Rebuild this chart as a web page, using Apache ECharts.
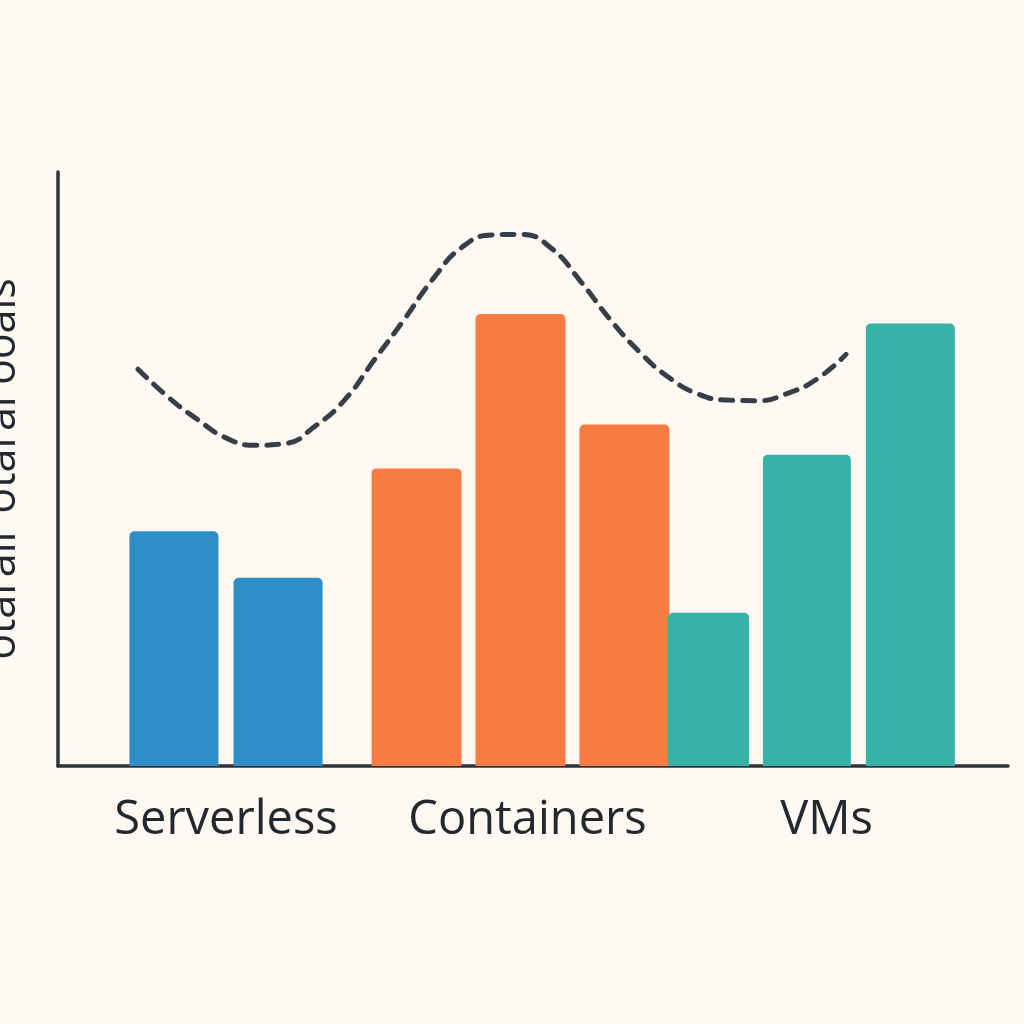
<!DOCTYPE html>
<html>
<head>
<meta charset="utf-8">
<script src="https://cdn.jsdelivr.net/npm/echarts@6/dist/echarts.min.js"></script>
<style>
  html, body { margin: 0; padding: 0; background: #fdf9f2; }
  #chart { width: 1024px; height: 1024px; }
</style>
</head>
<body>
<div id="chart"></div>
<script>
// groups on the x axis
const groups = ['Serverless', 'Containers', 'VMs']
const yTitle = 'otaraır otaraı ooaıs'

// bar heights per group (0-100 scale)
const serverlessValues = [39.5, 31.7]
const containerValues = [50.1, 76.1, 57.5]
const vmValues = [25.8, 52.4, 74.5]

// dashed trend line, read at evenly spaced points along the curve
const trendValues = [
  66.8, 62.2, 58.4, 55.2, 54.0, 54.3, 57.2, 61.6, 68.3, 75.0, 82.0, 87.4, 89.4,
  89.5, 87.2, 81.6, 75.2, 69.7, 65.4, 62.6, 61.6, 61.5, 62.7, 65.1, 69.3
]

const colors = {
  serverless: '#2e8fc7',
  containers: '#f77c43',
  vms: '#36b2a9',
  axis: '#2e343e',
  line: '#383e48',
  text: '#23282f'
}

const gridTop = 172
const gridBottom = 258

const chart = echarts.init(document.getElementById('chart'))

function hiddenY(gridIndex) {
  return {
    type: 'value', gridIndex, min: 0, max: 100,
    axisLine: { show: false }, axisTick: { show: false },
    axisLabel: { show: false }, splitLine: { show: false }
  }
}

function groupX(gridIndex, name, pad) {
  return {
    type: 'category', gridIndex, data: [name],
    axisLine: { show: false }, axisTick: { show: false },
    axisLabel: {
      color: colors.text, fontSize: 47, fontFamily: 'Open Sans',
      margin: 31, padding: pad
    }
  }
}

function bars(gridIndex, values, color, widths, gap) {
  return values.map((v, i) => ({
    type: 'bar',
    xAxisIndex: gridIndex, yAxisIndex: gridIndex,
    data: [v],
    barWidth: widths[i],
    barGap: gap,
    itemStyle: { color: color, borderRadius: [5, 5, 0, 0] },
    silent: true
  }))
}

function grid(left, width, right) {
  const g = { top: gridTop, bottom: gridBottom, left: left, outerBoundsMode: 'none', containLabel: false }
  if (width != null) g.width = width
  if (right != null) g.right = right
  return g
}

chart.setOption({
  backgroundColor: '#fdf9f2',
  animation: false,
  grid: [
    grid(58, null, 16),
    grid(66, 320),
    grid(360.5, 320),
    grid(651.5, 320),
    grid(138, null, 178)
  ],
  xAxis: [
    {
      type: 'value', gridIndex: 0, min: 0, max: 1,
      axisLine: { show: true, onZero: false, lineStyle: { color: colors.axis, width: 3.5, cap: 'round' } },
      axisTick: { show: false }, axisLabel: { show: false }, splitLine: { show: false }
    },
    groupX(1, groups[0], [0, 0, 0, 0]),
    groupX(2, groups[1], [0, 0, 0, 14]),
    groupX(3, groups[2], [0, 0, 0, 30]),
    {
      type: 'category', gridIndex: 4, boundaryGap: false,
      data: trendValues.map((_, i) => i),
      show: false
    }
  ],
  yAxis: [
    {
      type: 'value', gridIndex: 0, min: 0, max: 100,
      name: yTitle,
      nameLocation: 'middle',
      nameRotate: 90,
      nameGap: 34,
      nameTextStyle: { color: colors.text, fontSize: 43, fontFamily: 'Open Sans' },
      axisLine: { show: true, onZero: false, lineStyle: { color: colors.axis, width: 3.5, cap: 'round' } },
      axisTick: { show: false }, axisLabel: { show: false }, splitLine: { show: false }
    },
    hiddenY(1), hiddenY(2), hiddenY(3), hiddenY(4)
  ],
  series: [
    ...bars(1, serverlessValues, colors.serverless, [89, 89], '17%'),
    ...bars(2, containerValues, colors.containers, [90, 90, 90], '15.5%'),
    ...bars(3, vmValues, colors.vms, [81, 88, 89], '17%'),
    {
      type: 'line',
      xAxisIndex: 4, yAxisIndex: 4,
      data: trendValues,
      smooth: true,
      symbol: 'none',
      silent: true,
      lineStyle: { color: colors.line, width: 5, type: [12, 10], cap: 'round' },
      z: 5
    }
  ]
})
</script>
</body>
</html>
